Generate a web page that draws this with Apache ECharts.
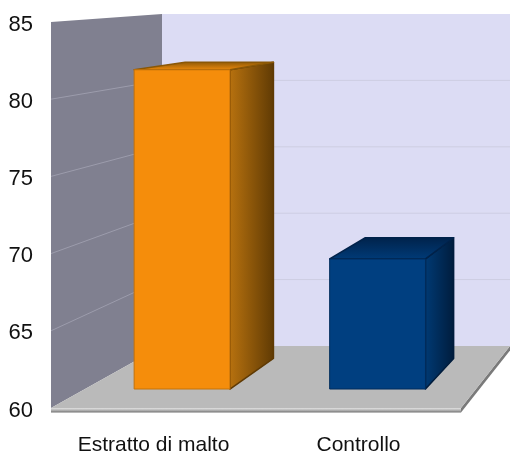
<!DOCTYPE html>
<html>
<head>
<meta charset="utf-8">
<style>html,body{margin:0;padding:0;background:#fff}#c{width:510px;height:452px}</style>
<script src="https://cdn.jsdelivr.net/npm/echarts@6/dist/echarts.min.js"></script>
</head>
<body>
<div id="c"></div>
<script>
const categories = ['Estratto di malto', 'Controllo'];
const values = [81.6, 68.8];
const gridTicks = [65, 70, 75, 80];
const yMin = 60, yMax = 85, yStep = 5;

const palette = [
  {front:'#f58d0b', edge:'#c4720a', sideA:'#b8720f', sideB:'#5f3a04', topA:'#f08b0c', topB:'#8a5706'},
  {front:'#003f80', edge:'#002c5c', sideA:'#003a74', sideB:'#001c3c', topA:'#003b78', topB:'#00224a'}
];
const BAR_T0 = 0.306, BAR_T1 = 0.8, BAR_SHARE = 0.49, BAR_SHIFT = -0.7;

function frame(api) {
  const band = api.size([1, 0])[0];
  const c0 = api.coord([0, yMax]);
  const c1 = api.coord([categories.length - 1, yMin]);
  const L = c0[0] - band / 2, R = c1[0] + band / 2, T = c0[1], B = c1[1];
  return {
    band, L, R, T, B,
    p(x, y, t) {
      const u = (x - L) / (R - L), w = (y - T) / (B - T);
      const l = L + 111 * t, r = R + 49 * t, tp = T - 8 * t, bt = B - 62 * t;
      return [l + (r - l) * u, tp + (bt - tp) * w];
    }
  };
}
const grad = (x2, y2, stops) => ({type:'linear', x:0, y:0, x2, y2,
  colorStops:stops.map((color, k) => ({offset:k / (stops.length - 1), color}))});
const poly = (points, style) => ({type:'polygon', shape:{points}, style});

function renderWalls(params, api) {
  const f = frame(api);
  const {L, R, T, B} = f;
  const a = f.p(L, T, 0), b = f.p(L, T, 1), c = f.p(L, B, 1), d = f.p(L, B, 0);
  const e = f.p(R, T, 1), g = f.p(R, B, 1), h = f.p(R, B, 0);
  return {type:'group', children:[
    poly([b, e, g, c], {fill:'#dcdcf4'}),
    poly([a, b, c, d], {fill:'#808090'}),
    poly([d, h, [h[0], h[1] + 4.5], [d[0], d[1] + 4.5]], {fill:grad(0, 1, ['#e2e2e2', '#b4b4b4', '#707070'])}),
    poly([h, g, [g[0], g[1] + 4.5], [h[0], h[1] + 4.5]], {fill:'#7a7a7a'}),
    poly([d, c, g, h], {fill:'#bababa'})
  ]};
}
function renderGrid(params, api) {
  const f = frame(api);
  const y = api.coord([0, api.value(0)])[1];
  const a = f.p(f.L, y, 0), b = f.p(f.L, y, 1), c = f.p(f.R, y, 1);
  return {type:'group', children:[
    {type:'polyline', shape:{points:[a, b]}, style:{stroke:'#9c9cac', lineWidth:1, fill:null}},
    {type:'polyline', shape:{points:[b, c]}, style:{stroke:'#cdcde2', lineWidth:1, fill:null}}
  ]};
}
function renderBar(params, api) {
  const f = frame(api);
  const i = api.value(0);
  const top = api.coord([i, api.value(1)]);
  const bottomY = api.coord([i, yMin])[1];
  const w = f.band * BAR_SHARE;
  const xa = top[0] - w / 2 + BAR_SHIFT, xb = top[0] + w / 2 + BAR_SHIFT;
  const pf = (x, y) => f.p(x, y, BAR_T0);
  const pb = (x, y) => f.p(x, y, BAR_T1);
  const c = palette[i];
  const A = pf(xa, top[1]), B = pf(xb, top[1]), C = pf(xb, bottomY), D = pf(xa, bottomY);
  const E = pb(xa, top[1]), F = pb(xb, top[1]), G = pb(xb, bottomY);
  const join = {lineJoin:'round'};
  return {type:'group', children:[
    poly([B, F, G, C], {fill:grad(1, 0, [c.sideA, c.sideB]), stroke:c.sideB, lineWidth:1.5, ...join}),
    poly([A, E, F, B], {fill:grad(0, 1, [c.topB, c.topA]), stroke:c.topB, lineWidth:1.5, ...join}),
    poly([A, B, C, D], {fill:c.front, stroke:c.edge, lineWidth:1, ...join})
  ]};
}

const chart = echarts.init(document.getElementById('c'), null, {renderer:'canvas'});
chart.setOption({
  animation:false,
  backgroundColor:'#fff',
  grid:{left:51, right:49, top:22, bottom:44, outerBoundsMode:'none'},
  xAxis:{type:'category', data:categories, boundaryGap:true,
    axisLine:{show:false}, axisTick:{show:false}, splitLine:{show:false},
    axisLabel:{color:'#111', fontFamily:'Liberation Sans', fontSize:21, margin:27}},
  yAxis:{type:'value', min:yMin, max:yMax, interval:yStep,
    axisLine:{show:false}, axisTick:{show:false}, splitLine:{show:false},
    axisLabel:{margin:18, formatter:v => `{n|${v}}`,
      rich:{n:{color:'#111', fontFamily:'Liberation Sans', fontSize:22, padding:[5,0,0,0]}}}},
  series:[
    {type:'custom', silent:true, clip:false, z:1, renderItem:renderWalls, data:[[0, yMin]], encode:{x:0,y:1}},
    {type:'custom', silent:true, clip:false, z:2, renderItem:renderGrid, data:gridTicks.map(v => [v]), encode:{y:0}},
    {type:'custom', silent:true, clip:false, z:3, renderItem:renderBar,
      data:values.map((v, i) => [i, v]), encode:{x:0,y:1}}
  ]
});
</script>
</body>
</html>
